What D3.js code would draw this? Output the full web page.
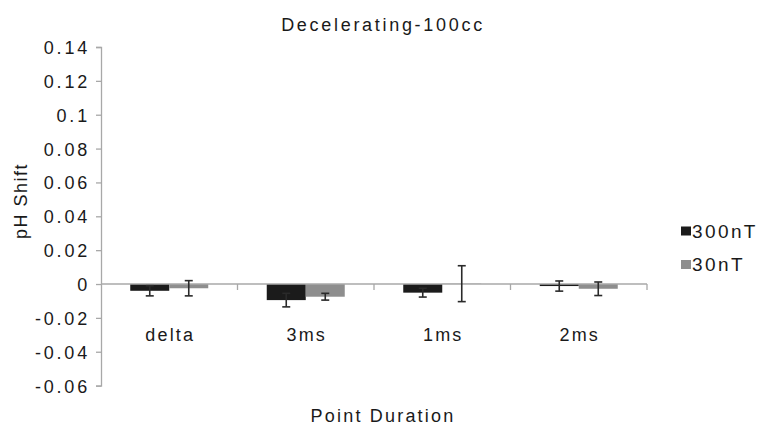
<!DOCTYPE html>
<html><head><meta charset="utf-8">
<script src="https://cdn.jsdelivr.net/npm/d3@7"></script>
<style>body{margin:0;background:#fff}svg{display:block;font-family:Arial,"Liberation Sans",sans-serif}</style>
</head><body><svg id="c" width="760" height="426"></svg>
<script>
const categories = ["delta","3ms","1ms","2ms"];
const seriesNames = ["300nT","30nT"];
const values300 = [-0.004,-0.0095,-0.0051,-0.0012];
const err300 = [0.003,0.004,0.0026,0.003];
const values30 = [-0.0025,-0.0075,0.0002,-0.0028];
const err30 = [0.0045,0.002,0.0106,0.004];
const yTicks = [0.14,0.12,0.1,0.08,0.06,0.04,0.02,0,-0.02,-0.04,-0.06];
const colors = ["#1b1b1b","#8e8e8e"];

const svg = d3.select("#c");
const L=101, R=647, T=47, B=385.6;
const y = d3.scaleLinear().domain([-0.06,0.14]).range([B,T]);
const x = d3.scaleBand().domain(categories).range([L,R]).paddingInner(0).paddingOuter(0);
const xs = d3.scaleBand().domain(seriesNames).range([0,x.bandwidth()]).paddingInner(0).paddingOuter(0.75);
const txt = "#1a1a1a";

// y axis
const yAxis = svg.append("g").attr("transform",`translate(${L},0)`)
  .call(d3.axisLeft(y).tickValues(yTicks).tickSize(5));
yAxis.select(".domain").attr("stroke","#a8a8a8").attr("stroke-width",1.3);
yAxis.selectAll(".tick line").attr("stroke","#a8a8a8").attr("stroke-width",1.3);
yAxis.selectAll(".tick text").attr("font-size",18).attr("letter-spacing","2.8px").attr("fill",txt).attr("x",-11).attr("dy","0.36em")
  .attr("font-family","Arial,'Liberation Sans',sans-serif")
  .text(d=>d===0?"0":String(+d.toFixed(2)));

// data
const data = categories.map((c,i)=>[
  {cat:c,s:seriesNames[0],v:values300[i],e:err300[i],col:colors[0]},
  {cat:c,s:seriesNames[1],v:values30[i],e:err30[i],col:colors[1]}
]).flat();

svg.append("g").selectAll("rect").data(data).join("rect")
  .attr("x",d=>x(d.cat)+xs(d.s)).attr("width",xs.bandwidth())
  .attr("y",d=>y(Math.max(0,d.v))).attr("height",d=>Math.abs(y(d.v)-y(0)))
  .attr("fill",d=>d.col);

// x axis
const xAxisG = svg.append("g").attr("transform",`translate(0,${y(0)})`);
xAxisG.append("line").attr("x1",L).attr("x2",R).attr("stroke","#a8a8a8").attr("stroke-width",1.5);
const bounds = categories.map(c=>x(c)).concat([R]);
xAxisG.selectAll("line.t").data(bounds.slice(1)).join("line").attr("class","t")
  .attr("x1",d=>d).attr("x2",d=>d).attr("y1",0).attr("y2",6).attr("stroke","#a8a8a8").attr("stroke-width",1.3);
svg.append("g").selectAll("text").data(categories).join("text")
  .attr("x",d=>x(d)+x.bandwidth()/2+1).attr("y",341).attr("text-anchor","middle")
  .attr("font-size",18).attr("letter-spacing","2.2px").attr("fill",txt).text(d=>d);

// error bars
const eg = svg.append("g").attr("stroke","#2a2a2a").attr("stroke-width",1.6);
data.forEach(d=>{
  const cx = x(d.cat)+xs(d.s)+xs.bandwidth()/2;
  eg.append("line").attr("x1",cx).attr("x2",cx).attr("y1",y(d.v+d.e)).attr("y2",y(d.v-d.e));
  [d.v+d.e,d.v-d.e].forEach(v=>eg.append("line").attr("x1",cx-4).attr("x2",cx+4).attr("y1",y(v)).attr("y2",y(v)));
});

// titles
svg.append("text").attr("x",383).attr("y",31).attr("text-anchor","middle").attr("font-size",18).attr("letter-spacing","2.7px").attr("fill",txt).text("Decelerating-100cc");
svg.append("text").attr("x",383).attr("y",422).attr("text-anchor","middle").attr("font-size",18).attr("letter-spacing","2.2px").attr("fill",txt).text("Point Duration");
svg.append("text").attr("transform","translate(27,201) rotate(-90)").attr("text-anchor","middle").attr("font-size",18).attr("letter-spacing","1.5px").attr("fill",txt).text("pH Shift");

// legend
const lg = svg.append("g").selectAll("g").data(seriesNames).join("g")
  .attr("transform",(d,i)=>`translate(681,${231+i*33.5})`);
lg.append("rect").attr("x",0).attr("y",-4.5).attr("width",10).attr("height",9).attr("fill",(d,i)=>colors[i]);
lg.append("text").attr("x",11).attr("y",0).attr("dy","0.36em").attr("font-size",19).attr("letter-spacing","2.4px").attr("fill",txt).text(d=>d);
</script></body></html>
